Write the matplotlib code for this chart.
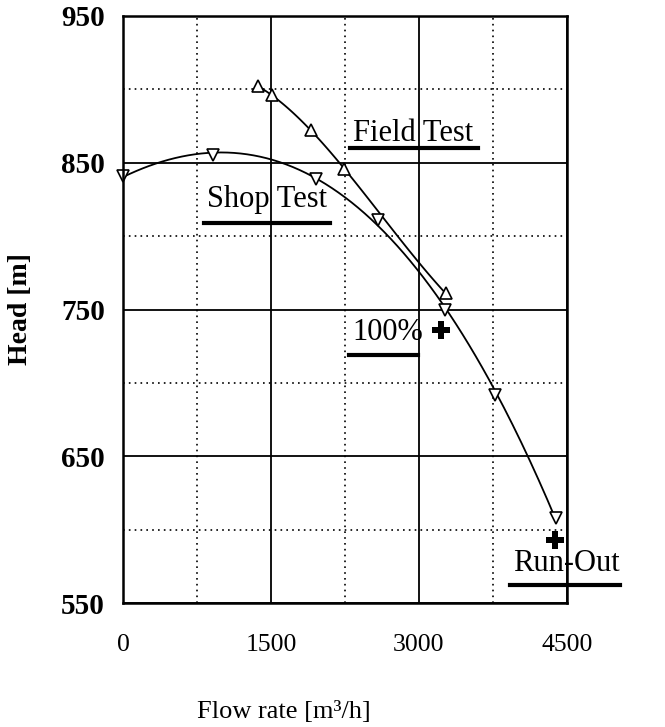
import numpy as np
import matplotlib.pyplot as plt
from matplotlib.ticker import MultipleLocator

field_q = [1370, 1513, 1902, 2243, 3270]
field_h = [902, 896, 872, 846, 761]
shop_q = [0, 911, 1956, 2588, 3263, 3770, 4389]
shop_h = [841, 855, 839, 811, 750, 692, 608]
plus_q = [3220, 4378]
plus_h = [736, 593]

plt.rcParams['font.family'] = ['Liberation Serif', 'DejaVu Serif']

fig = plt.figure(figsize=(6.65, 7.27), dpi=100)
ax = fig.add_axes([123 / 665, 1 - 603 / 727, 444 / 665, 587 / 727])

ax.set_xlim(0, 4500)
ax.set_ylim(550, 950)
ax.xaxis.set_major_locator(MultipleLocator(1500))
ax.xaxis.set_minor_locator(MultipleLocator(750))
ax.yaxis.set_major_locator(MultipleLocator(100, offset=50))
ax.yaxis.set_minor_locator(MultipleLocator(50))
ax.grid(which='major', color='black', lw=1.3)
ax.grid(which='minor', color='black', lw=1.2, ls=(0, (1, 2.5)))
ax.tick_params(which='both', length=0)
ax.tick_params(axis='x', labelsize=18.5, pad=22)
ax.tick_params(axis='y', labelsize=21, pad=13)
for t in ax.get_yticklabels():
    t.set_fontweight('bold')
for s in ax.spines.values():
    s.set_linewidth(1.8)

# fitted curves through the test points
fc = np.polyfit(field_q, field_h, 3)
fq = np.linspace(field_q[0], field_q[-1], 100)
ax.plot(fq, np.polyval(fc, fq), color='black', lw=1.3)
sc = np.polyfit(shop_q, shop_h, 3)
sq = np.linspace(shop_q[0], shop_q[-1], 200)
ax.plot(sq, np.polyval(sc, sq), color='black', lw=1.3)

ax.plot(field_q, field_h, ls='none', marker='^', ms=8, mfc='white', mec='black', mew=1.2, clip_on=False)
ax.plot(shop_q, shop_h, ls='none', marker='v', ms=8, mfc='white', mec='black', mew=1.2, clip_on=False)
ax.plot(plus_q, plus_h, ls='none', marker='P', ms=13, color='black', mew=0, clip_on=False)


def label(x0, x1, y, yline, text):
    ax.text(x0, y, text, fontsize=22, ha='left', va='baseline')
    ax.plot([x0 - 30, x1], [yline, yline], color='black', lw=3, clip_on=False)


label(2331, 3598, 865, 860, 'Field Test')
label(851, 2098, 820, 809, 'Shop Test')
label(2321, 2990, 729, 719, '100%')
label(3953, 5037, 572, 562, 'Run-Out')

ax.set_ylabel('Head [m]', fontsize=20, fontweight='bold', labelpad=20)
fig.text(284 / 665, 1 - 712 / 727, 'Flow rate [m³/h]', fontsize=19, ha='center', va='center')

fig.savefig('out.png', dpi=100)
